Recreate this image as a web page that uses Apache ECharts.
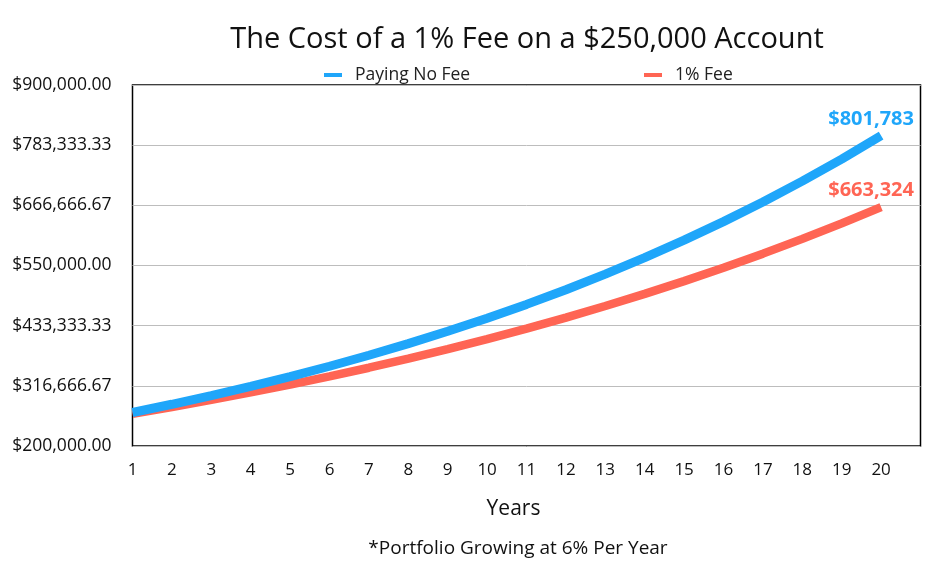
<!DOCTYPE html>
<html>
<head>
<meta charset="utf-8">
<script src="https://cdn.jsdelivr.net/npm/echarts@6/dist/echarts.min.js"></script>
<style>
html,body{margin:0;padding:0;background:#fff;}
#chart{width:946px;height:564px;}
</style>
</head>
<body>
<div id="chart"></div>
<script>
var titleText = 'The Cost of a 1% Fee on a $250,000 Account';
var footnote = '*Portfolio Growing at 6% Per Year';
var xName = 'Years';
var years = [1,2,3,4,5,6,7,8,9,10,11,12,13,14,15,16,17,18,19,20];
var noFeeName = 'Paying No Fee';
var feeName = '1% Fee';
var noFee = [265000, 280900, 297754, 315619.24, 334556.39, 354629.78, 375907.57, 398462.02, 422369.74, 447711.92, 474574.64, 503049.11, 533232.06, 565225.98, 599139.54, 635087.91, 673193.18, 713584.77, 756399.86, 801783.85];
var withFee = [262500, 275625, 289406.25, 303876.56, 319070.39, 335023.91, 351775.11, 369363.86, 387832.06, 407223.66, 427584.84, 448964.08, 471412.29, 494982.90, 519732.04, 545718.65, 573004.58, 601654.81, 631737.55, 663324.43];
var yMin = 200000, yMax = 900000, ySteps = 6;

var FONT = '"Open Sans"';
var BLUE = '#1FA6FA';
var RED = '#FF6554';

function money(v){ return '$' + Math.floor(v).toLocaleString('en-US'); }

function endMark(vals, color){
  var last = years.length - 1;
  return {
    silent: true,
    symbol: 'circle', symbolSize: 1,
    itemStyle: { color: 'rgba(0,0,0,0)' },
    label: {
      show: true, position: 'top', distance: 6, offset: [-10, 0],
      formatter: function(p){ return money(p.value); },
      color: color, fontFamily: FONT, fontWeight: 'bold', fontSize: 20
    },
    data: [{ coord: [years[last], vals[last]], value: vals[last] }]
  };
}

function pairs(vals){ return years.map(function(y, i){ return [y, vals[i]]; }); }

var chart = echarts.init(document.getElementById('chart'));
chart.setOption({
  animation: false,
  backgroundColor: '#fff',
  title: [
    { text: titleText, left: 522, textAlign: 'center', top: 20, textStyle: { fontFamily: FONT, fontSize: 29, fontWeight: 'normal', color: '#111' } },
    { text: footnote, left: 513, textAlign: 'center', top: 534, textStyle: { fontFamily: FONT, fontSize: 19, fontWeight: 'normal', color: '#111' } }
  ],
  legend: [
    { data: [noFeeName], left: 319, top: 61, icon: 'rect', itemWidth: 18, itemHeight: 4, itemGap: 0,
      textStyle: { fontFamily: FONT, fontSize: 17.5, color: '#222', padding: [0,0,0,8] } },
    { data: [feeName], left: 639, top: 61, icon: 'rect', itemWidth: 18, itemHeight: 4, itemGap: 0,
      textStyle: { fontFamily: FONT, fontSize: 17.5, color: '#222', padding: [0,0,0,8] } }
  ],
  grid: { left: 132.5, right: 25.5, top: 85, bottom: 118, show: true, borderColor: '#000', borderWidth: 1.5, backgroundColor: 'transparent' },
  xAxis: {
    type: 'value', min: 1, max: 21, interval: 1,
    name: xName, nameLocation: 'middle', nameGap: 53,
    nameTextStyle: { fontFamily: FONT, fontSize: 21, color: '#111', padding: [0, 26, 0, 0] },
    axisLine: { show: false }, axisTick: { show: false }, splitLine: { show: false },
    axisLabel: { margin: 16, fontFamily: FONT, fontSize: 17, color: '#111',
      formatter: function(v){ return v <= years[years.length-1] ? String(v) : ''; } }
  },
  yAxis: {
    type: 'value', min: yMin, max: yMax, interval: (yMax - yMin) / ySteps,
    axisLine: { show: false }, axisTick: { show: false },
    splitLine: { lineStyle: { color: '#bdbdbd', width: 1 } },
    axisLabel: { margin: 21, fontFamily: FONT, fontSize: 17.5, color: '#111',
      formatter: function(v){ return '$' + v.toLocaleString('en-US', { minimumFractionDigits: 2, maximumFractionDigits: 2 }); } }
  },
  series: [
    { name: feeName, type: 'line', data: pairs(withFee), showSymbol: false, symbol: 'none',
      lineStyle: { color: RED, width: 8.5 }, itemStyle: { color: RED }, z: 2,
      markPoint: endMark(withFee, RED) },
    { name: noFeeName, type: 'line', data: pairs(noFee), showSymbol: false, symbol: 'none',
      lineStyle: { color: BLUE, width: 9 }, itemStyle: { color: BLUE }, z: 3,
      markPoint: endMark(noFee, BLUE) }
  ]
});
</script>
</body>
</html>
